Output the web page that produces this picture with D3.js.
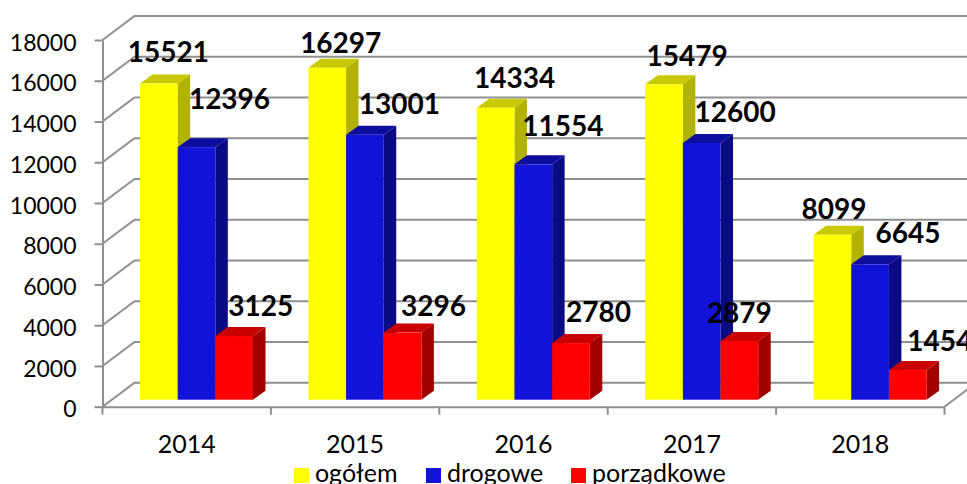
<!DOCTYPE html>
<html>
<head>
<meta charset="utf-8">
<script src="https://cdn.jsdelivr.net/npm/d3@7"></script>
<style>
  html, body { margin: 0; padding: 0; background: #fff; overflow: hidden; }
  svg { display: block; font-family: Lato, sans-serif; }
</style>
</head>
<body>
<svg id="chart"></svg>
<script>
// Data
const years = ["2014", "2015", "2016", "2017", "2018"];
const seriesNames = ["ogółem", "drogowe", "porządkowe"];
const ogolem = [15521, 16297, 14334, 15479, 8099];
const drogowe = [12396, 13001, 11554, 12600, 6645];
const porzadkowe = [3125, 3296, 2780, 2879, 1454];
const yTicks = [0, 2000, 4000, 6000, 8000, 10000, 12000, 14000, 16000, 18000];

// Hand placed data labels, one [dx, dy] per bar, same order as the series
const labelNudge = [
    [[9.5, -22], [13.5, -15], [19, -20], [23, -18], [1.5, -16]],
    [[33, -38.5], [34.5, -21], [29.5, -28.6], [33.5, -21], [38, -21.6]],
    [[26.5, -20], [31, -17], [27.5, -21], [0, -18], [32, -19]]
];

const width = 967, height = 484;
const seriesValues = [ogolem, drogowe, porzadkowe];
const front = ["#ffff00", "#1212d8", "#ff0000"];
const top3d = ["#c9c900", "#0d0da0", "#c80000"];
const side3d = ["#b2b200", "#0a0a85", "#a00000"];
const gridColor = "#8f8f8f";

// Depth of the wall and of the bars
const wallDx = 32, wallDy = 24;
const barDx = 12.5, barDy = 9, barLift = 7;

const svg = d3.select("#chart").attr("width", width).attr("height", height);

const x0 = d3.scaleBand().domain(years).range([102.5, 944.5]);
const x1 = d3.scaleBand().domain(seriesNames).range([37.5, 150.5]);
const y = d3.scaleLinear().domain([0, 18000]).range([406.7, 40]);

// Back wall and side wall lines
const grid = svg.append("g");
grid.selectAll(".wall")
    .data(yTicks)
    .enter()
    .append("path")
    .attr("d", d => `M${x0.range()[0]},${y(d)}l${wallDx},${-wallDy}H${width + 5}`)
    .attr("fill", "none")
    .attr("stroke", gridColor)
    .attr("stroke-width", 2);

// Right edge of the floor
grid.append("path")
    .attr("d", `M${x0.range()[1]},${y(0)}l${wallDx},${-wallDy}`)
    .attr("fill", "none")
    .attr("stroke", gridColor)
    .attr("stroke-width", 2);

// Axes
const yAxis = svg.append("g")
    .attr("transform", `translate(${x0.range()[0]},0)`)
    .call(d3.axisLeft(y).tickValues(yTicks).tickFormat(d3.format("d")).tickSize(8).tickPadding(18).tickSizeOuter(0));

const xAxis = svg.append("g")
    .attr("transform", `translate(0,${y(0)})`)
    .call(d3.axisBottom(x0).tickSize(0).tickPadding(29));

[yAxis, xAxis].forEach(a => {
    a.selectAll(".domain").attr("stroke", gridColor).attr("stroke-width", 2);
    a.selectAll(".tick line").attr("stroke", gridColor).attr("stroke-width", 2);
    a.selectAll("text").attr("fill", "#000").style("font-family", "Lato, sans-serif");
});
yAxis.selectAll("text").style("font-size", "23px").attr("dy", "0.44em");
xAxis.selectAll("text").style("font-size", "25px");

// Tick marks between the categories
svg.append("g").selectAll("line")
    .data(years.concat("end"))
    .enter()
    .append("line")
    .attr("x1", (d, i) => x0.range()[0] + i * x0.step())
    .attr("x2", (d, i) => x0.range()[0] + i * x0.step())
    .attr("y1", y(0))
    .attr("y2", y(0) + 8)
    .attr("stroke", gridColor)
    .attr("stroke-width", 2);

// Bars: side and top first, then the front face
seriesNames.forEach((name, s) => {
    const g = svg.append("g");
    seriesValues[s].forEach((v, i) => {
        const left = x0(years[i]) + x1(name);
        const w = x1.bandwidth();
        const t = y(v) - barLift;
        const b = y(0) - barLift;

        g.append("path")
            .attr("d", `M${left + w},${t}l${barDx},${-barDy}V${b - barDy}l${-barDx},${barDy}Z`)
            .attr("fill", side3d[s]);
        g.append("path")
            .attr("d", `M${left},${t}l${barDx},${-barDy}h${w}l${-barDx},${barDy}Z`)
            .attr("fill", top3d[s]);
        g.append("rect")
            .attr("x", left)
            .attr("y", t)
            .attr("width", w)
            .attr("height", b - t)
            .attr("fill", front[s]);
    });
});

// Data labels go above all the bars
seriesNames.forEach((name, s) => {
    seriesValues[s].forEach((v, i) => {
        svg.append("text")
            .attr("x", x0(years[i]) + x1(name) + x1.bandwidth() / 2 + labelNudge[s][i][0])
            .attr("y", y(v) - barLift + labelNudge[s][i][1])
            .attr("text-anchor", "middle")
            .style("font-size", "28px")
            .style("font-weight", "bold")
            .attr("fill", "#000")
            .text(v);
    });
});

// Legend
const legendX = [294, 426, 571];
const legend = svg.append("g");
seriesNames.forEach((name, s) => {
    legend.append("rect")
        .attr("x", legendX[s])
        .attr("y", 468)
        .attr("width", 15)
        .attr("height", 15)
        .attr("fill", front[s]);
    legend.append("text")
        .attr("x", legendX[s] + 21)
        .attr("y", 482)
        .style("font-size", "25px")
        .attr("fill", "#000")
        .text(name);
});
</script>
</body>
</html>
